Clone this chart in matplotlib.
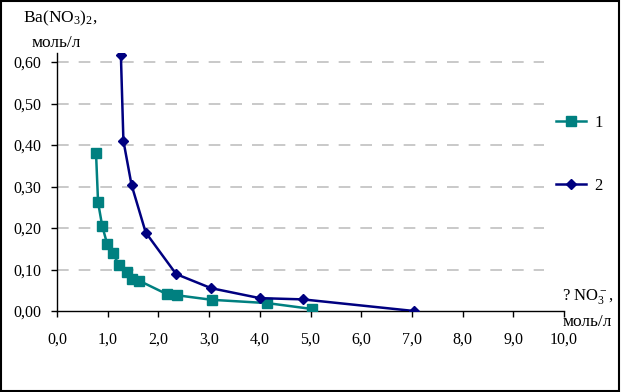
import matplotlib
matplotlib.use('Agg')
import matplotlib.pyplot as plt
from matplotlib.patches import Rectangle

plt.rcParams['font.family'] = 'Liberation Serif'
plt.rcParams['mathtext.fontset'] = 'custom'
plt.rcParams['mathtext.rm'] = 'Liberation Serif'
plt.rcParams['mathtext.it'] = 'Liberation Serif:italic'

# series 1 (teal squares)
x1 = [0.77, 0.81, 0.89, 0.99, 1.10, 1.23, 1.39, 1.47, 1.62, 2.16, 2.36, 3.05, 4.15, 5.02]
y1 = [0.380, 0.262, 0.206, 0.161, 0.139, 0.110, 0.095, 0.078, 0.073, 0.041, 0.038, 0.027, 0.019, 0.005]

# series 2 (navy diamonds)
x2 = [1.26, 1.31, 1.47, 1.75, 2.35, 3.04, 4.00, 4.85, 7.04]
y2 = [0.617, 0.410, 0.304, 0.189, 0.089, 0.055, 0.031, 0.028, 0.000]

xticks = [0, 1, 2, 3, 4, 5, 6, 7, 8, 9, 10]
yticks = [0.0, 0.1, 0.2, 0.3, 0.4, 0.5, 0.6]

fig = plt.figure(figsize=(6.21, 3.92), dpi=100)
ax = fig.add_axes([57/621, 1-311/392, (564-57)/621, (311-53)/392])

ax.plot(x1, y1, color='#008080', lw=1.8, marker='s', ms=6.5, label='1', zorder=3)
ax.plot(x2, y2, color='#000080', lw=1.8, marker='D', ms=5, label='2', zorder=4)

ax.set_xlim(0, 10)
ax.set_ylim(0, 0.6217)
ax.set_xticks(xticks)
ax.set_xticklabels([f'{v:.1f}'.replace('.', ',') for v in xticks], fontsize=11.5)
ax.set_yticks(yticks)
ax.set_yticklabels([f'{v:.2f}'.replace('.', ',') for v in yticks], fontsize=11.5)
ax.tick_params(direction='out', length=4, width=1, color='black', pad=7)
ax.tick_params(axis='x', pad=11)

for v in yticks[1:]:
    ax.axhline(v, xmin=0, xmax=0.96, color='#c0c0c0', lw=1.2, ls=(0, (7, 6)), zorder=1)

for s in ['top', 'right']:
    ax.spines[s].set_visible(False)
ax.spines['left'].set_linewidth(1)
ax.spines['bottom'].set_linewidth(1)

fig.text(23/621, 1-18/392, r'Ba(NO$_3$)$_2$,', fontsize=12.5, va='center', ha='left')
fig.text(32/621, 1-43/392, 'моль/л', fontsize=12.5, va='center', ha='left')
fig.text(562/621, 1-297/392, r'? NO$_3^-$,', fontsize=12, va='center', ha='left')
fig.text(563/621, 1-322/392, 'моль/л', fontsize=12.5, va='center', ha='left')

ax.legend(loc='upper left', bbox_to_anchor=(548/621, 1-107/392), bbox_transform=fig.transFigure,
          frameon=False, fontsize=12, labelspacing=2.8, handlelength=1.8, handletextpad=0.5,
          borderpad=0)

fig.patches.append(Rectangle((0.002, 0.003), 0.995, 0.994, transform=fig.transFigure,
                             fill=False, edgecolor='black', lw=1.5))

fig.savefig('out.png', dpi=100)
